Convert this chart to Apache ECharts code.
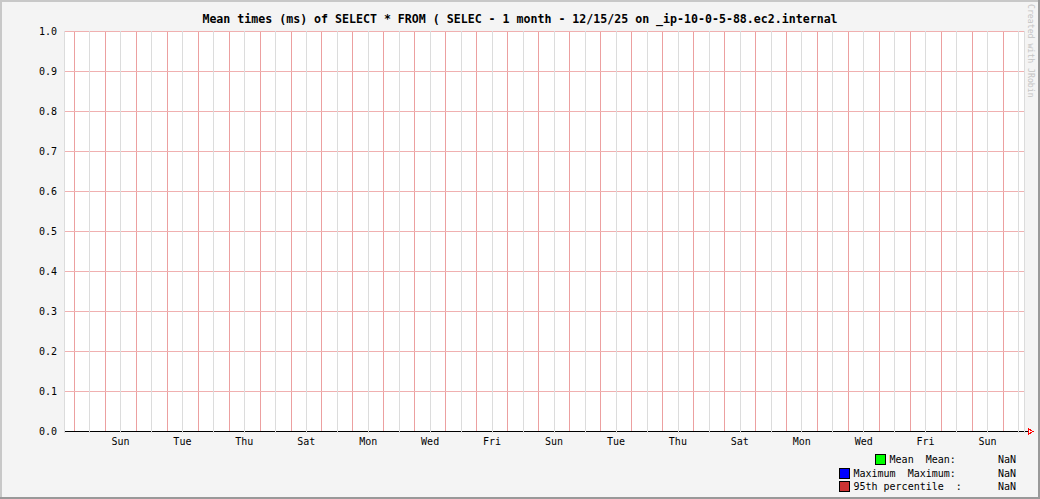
<!DOCTYPE html>
<html>
<head>
<meta charset="utf-8">
<script src="https://cdn.jsdelivr.net/npm/echarts@6/dist/echarts.min.js"></script>
<style>
html,body{margin:0;padding:0;background:#f4f4f4;}
#chart{width:1040px;height:499px;}
#chart svg path, #chart svg line, #chart svg rect, #chart svg polygon{shape-rendering:crispEdges;}
</style>
</head>
<body>
<div id="chart"></div>
<script>
// ---- Data (hours relative to 2025-11-15 00:00) ----
const titleText = 'Mean times (ms) of SELECT * FROM ( SELEC - 1 month - 12/15/25 on _ip-10-0-5-88.ec2.internal';
const xStartHour = -7.75;
const xEndHour = 736.25;
const dayLabels = ['Sun','Tue','Thu','Sat','Mon','Wed','Fri','Sun','Tue','Thu','Sat','Mon','Wed','Fri','Sun'];
const labelHours = [36,84,132,180,228,276,324,372,420,468,516,564,612,660,708];
const yTicks = [0,0.1,0.2,0.3,0.4,0.5,0.6,0.7,0.8,0.9,1.0];
const seriesNames = ['Mean','Maximum','95th percentile'];
const seriesColors = ['#00ff00','#0000ff','#cc3333'];
const legendTexts = ['Mean  Mean:       NaN','Maximum  Maximum:       NaN','95th percentile  :      NaN'];
const meanValues = [];      // no data (NaN)
const maxValues = [];       // no data (NaN)
const p95Values = [];       // no data (NaN)

// grid line positions: midnights (major) and noons (minor) across the month
const midnightHours = [];
for (let h = 0; h <= xEndHour; h += 24) midnightHours.push(h);
const minorHours = [xStartHour];
for (let h = 12; h <= xEndHour; h += 24) minorHours.push(h);
minorHours.push(xEndHour);

const MONO = '"DejaVu Sans Mono", "Liberation Mono", monospace';
const MAJOR_V = '#eca0a0';
const MAJOR_H = '#f0b0b0';
const chart = echarts.init(document.getElementById('chart'), null, {renderer:'svg'});

const valuesBySeries = [meanValues, maxValues, p95Values];
const legends = seriesNames.map((n, i) => ({
  data: [n],
  right: 24,
  top: 454 + i * 13.5,
  padding: 0,
  itemWidth: 10,
  itemHeight: 10,
  icon: 'rect',
  selectedMode: false,
  itemStyle: {borderColor:'#000', borderWidth:1},
  textStyle: {fontFamily: MONO, fontSize: 10, color:'#000', padding:[0,0,0,-1]},
  formatter: () => legendTexts[i]
}));

const dataSeries = seriesNames.map((n, i) => ({
  name: n, type: 'line', xAxisIndex: 0, yAxisIndex: 0,
  data: valuesBySeries[i], showSymbol: false,
  color: seriesColors[i],
  itemStyle: {color: seriesColors[i]},
  lineStyle: {color: seriesColors[i]}
}));

const majorLines = []
  .concat(midnightHours.map(h => [{coord: [h, 0], lineStyle: {color: MAJOR_V}}, {coord: [h, 1]}]))
  .concat(yTicks.map(v => [{coord: [xStartHour, v], lineStyle: {color: MAJOR_H}}, {coord: [xEndHour, v]}]));

const majorGridSeries = {
  name: 'majorGrid', type: 'line', data: [], silent: true, z: 1,
  markLine: {
    silent: true, animation: false, symbol: ['none','none'],
    label: {show: false},
    emphasis: {disabled: true},
    lineStyle: {color: MAJOR_V, type: 'solid', width: 1},
    data: majorLines
  }
};

chart.setOption({
  backgroundColor: '#f4f4f4',
  animation: false,
  title: {
    text: titleText,
    left: 'center',
    top: 13,
    padding: 0,
    textStyle: {fontFamily: MONO, fontWeight: 'bold', fontSize: 11.6, color: '#000'}
  },
  legend: legends,
  grid: {left: 64, right: 16, top: 31, bottom: 68, show: true, backgroundColor: '#ffffff', borderWidth: 0},
  xAxis: {
    type: 'value', min: xStartHour, max: xEndHour, z: 10,
    axisLine: {show: true, lineStyle: {color: '#000', width: 1}},
    axisTick: {show: true, length: 2, customValues: minorHours, lineStyle: {color: '#d8d8d8'}},
    splitLine: {show: true, lineStyle: {color: '#dcdcdc', width: 1}},
    axisLabel: {
      customValues: labelHours, margin: 5,
      fontFamily: MONO, fontSize: 10, color: '#000',
      formatter: v => dayLabels[labelHours.indexOf(v)] || ''
    }
  },
  yAxis: {
    type: 'value', min: 0, max: 1, interval: 0.1, z: 0,
    axisLine: {show: false},
    axisTick: {show: true, length: 2, lineStyle: {color: MAJOR_V}},
    splitLine: {show: false},
    axisLabel: {margin: 7, fontFamily: MONO, fontSize: 10, color: '#000', formatter: v => v.toFixed(1)}
  },
  series: dataSeries.concat([majorGridSeries]),
  graphic: [
    {type:'rect', shape:{x:0,y:0,width:1040,height:2}, style:{fill:'#c8c8c8'}, silent:true},
    {type:'rect', shape:{x:0,y:0,width:2,height:499}, style:{fill:'#c8c8c8'}, silent:true},
    {type:'rect', shape:{x:0,y:497,width:1040,height:2}, style:{fill:'#999999'}, silent:true},
    {type:'rect', shape:{x:1038,y:0,width:2,height:499}, style:{fill:'#999999'}, silent:true},
    {type:'line', shape:{x1:1024,y1:431.5,x2:1028,y2:431.5}, style:{stroke:'#000',lineWidth:1}, silent:true, z:10},
    {type:'polygon', shape:{points:[[1028,428.5],[1033,431.5],[1028,434.5]]}, style:{fill:'none',stroke:'#ff0000',lineWidth:1}, silent:true, z:10},
    {type:'text', x:1027, y:4, rotation:-Math.PI/2, style:{text:'Created with JRobin', fill:'#c4c4c4', font:'8.2px ' + MONO, textAlign:'left', textVerticalAlign:'bottom'}, silent:true}
  ]
});
</script>
</body>
</html>
